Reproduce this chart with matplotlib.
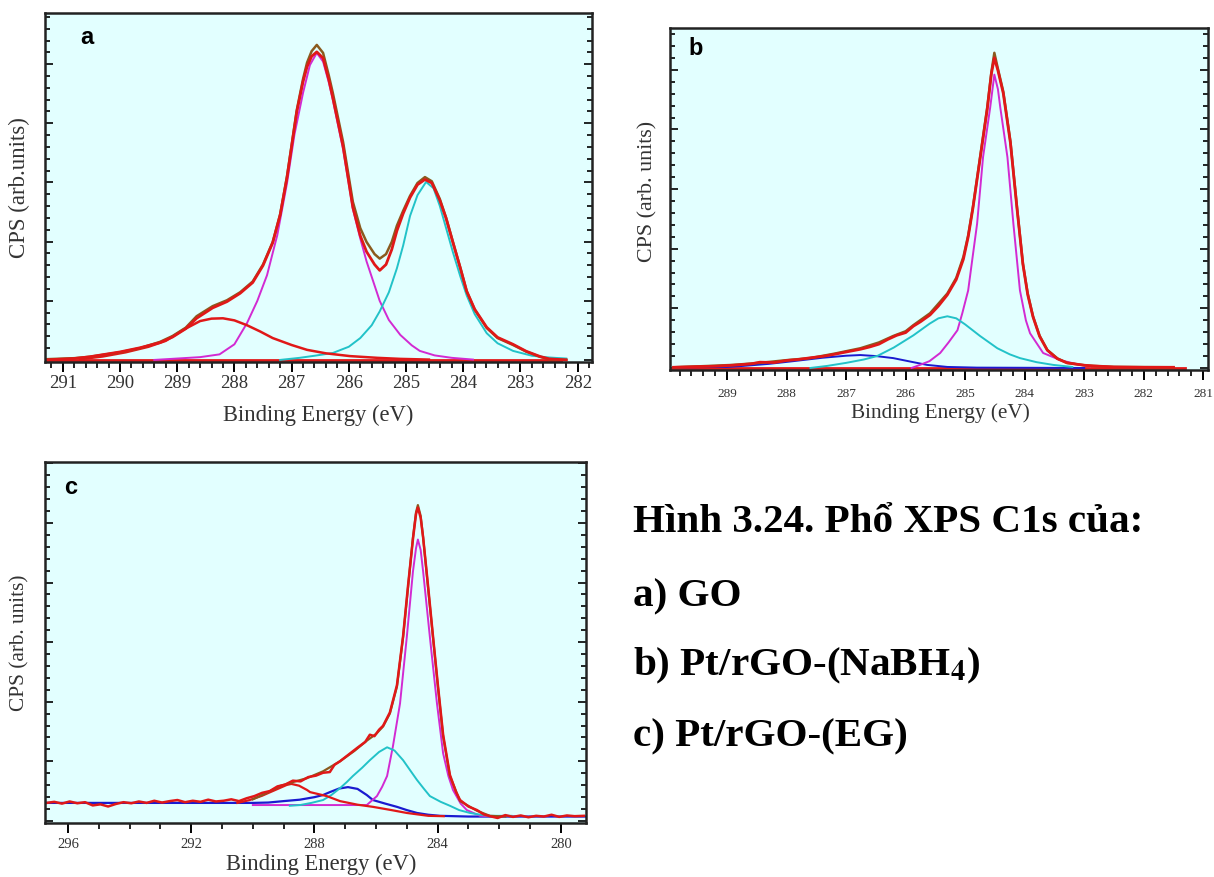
import matplotlib
matplotlib.use("Agg")
import matplotlib.pyplot as plt
from matplotlib.ticker import MultipleLocator

plt.rcParams['mathtext.fontset'] = 'stix'

# ---- panel a : GO ----
a_env_x = [291.3, 290.8, 290.53, 290.0, 289.65, 289.3, 289.08, 288.85, 288.66, 288.38, 288.13, 287.9,
           287.68, 287.5, 287.33, 287.2, 287.08, 286.91, 286.8, 286.73, 286.65, 286.56, 286.45, 286.35,
           286.28, 286.1, 285.93, 285.8, 285.69, 285.55, 285.46, 285.35, 285.25, 285.16, 285.05, 284.93,
           284.8, 284.67, 284.55, 284.41, 284.3, 284.18, 284.05, 283.94, 283.8, 283.59, 283.4, 283.13,
           282.9, 282.66, 282.5, 282.2]
a_env = [0.2, 0.5, 0.9, 2.2, 3.4, 5.2, 6.9, 9.3, 12.6, 15.5, 17.2, 19.5,
         22.6, 27.5, 34.0, 42.0, 53.0, 72.0, 81.0, 85.7, 89.0, 90.8, 88.5, 82.0,
         77.0, 62.8, 45.6, 38.0, 34.0, 30.5, 29.2, 30.5, 34.0, 38.7, 43.0, 47.3,
         51.0, 52.7, 51.5, 46.4, 41.0, 34.0, 26.5, 19.8, 14.5, 9.2, 6.3, 4.3,
         2.4, 0.9, 0.2, 0.0]
a_data = [0.0, 0.4, 0.9, 2.3, 3.5, 5.0, 6.6, 9.0, 12.0, 15.0, 16.8, 19.2,
          22.3, 27.2, 33.8, 41.8, 52.6, 71.5, 80.2, 84.5, 87.5, 88.8, 87.0, 80.8,
          75.6, 61.5, 44.0, 35.8, 31.2, 27.5, 25.8, 27.5, 31.8, 37.2, 42.2, 46.8,
          50.5, 52.0, 51.0, 46.0, 40.8, 33.8, 26.4, 19.8, 14.6, 9.4, 6.5, 4.5,
          2.5, 1.0, 0.3, 0.0]
a_c1_x = [289.4, 289.0, 288.6, 288.26, 288.0, 287.78, 287.6, 287.43, 287.25, 287.08, 286.95, 286.8,
          286.68, 286.56, 286.45, 286.35, 286.28, 286.1, 285.93, 285.8, 285.69, 285.46, 285.3, 285.1,
          284.9, 284.76, 284.5, 284.2, 283.83]
a_c1 = [0.0, 0.4, 0.8, 1.6, 4.5, 10.6, 17.0, 24.4, 36.0, 51.0, 65.0, 77.0,
        85.0, 88.5, 86.0, 80.0, 75.0, 60.7, 43.6, 35.0, 28.4, 17.0, 11.5, 7.2,
        4.2, 2.6, 1.3, 0.6, 0.1]
a_c2_x = [287.2, 286.86, 286.6, 286.28, 286.0, 285.8, 285.6, 285.46, 285.3, 285.16, 285.05, 284.93,
          284.8, 284.65, 284.52, 284.41, 284.3, 284.18, 284.05, 283.94, 283.8, 283.59, 283.4, 283.13,
          282.8, 282.5, 282.2]
a_c2 = [0.0, 0.6, 1.2, 2.0, 3.8, 6.3, 10.0, 14.0, 19.5, 26.4, 33.0, 41.5,
        47.5, 51.3, 49.5, 44.4, 38.0, 31.0, 24.0, 18.6, 13.2, 7.7, 4.8, 2.6,
        1.2, 0.7, 0.4]
a_c3_x = [290.7, 290.3, 289.9, 289.5, 289.2, 288.9, 288.6, 288.4, 288.2, 288.0, 287.78, 287.55,
          287.33, 287.0, 286.73, 286.4, 285.98, 285.5, 285.1, 284.6]
a_c3 = [0.2, 1.0, 2.2, 3.8, 5.5, 8.6, 11.2, 11.9, 12.0, 11.4, 10.0, 8.2,
        6.3, 4.3, 2.9, 1.9, 1.1, 0.6, 0.3, 0.1]

# ---- panel b : Pt/rGO-(NaBH4) ----
b_env_x = [289.9, 289.3, 288.9, 288.45, 288.0, 287.6, 287.2, 286.76, 286.45, 286.21, 286.0, 285.87,
           285.59, 285.3, 285.15, 285.03, 284.95, 284.87, 284.75, 284.63, 284.56, 284.51, 284.45, 284.36,
           284.24, 284.13, 284.03, 283.95, 283.86, 283.75, 283.62, 283.45, 283.29, 283.0, 282.85, 282.5,
           281.5]
b_env = [0.2, 0.6, 0.9, 1.5, 2.3, 2.9, 4.2, 5.8, 7.5, 9.4, 10.8, 12.6,
         16.1, 21.9, 26.5, 32.7, 39.0, 47.4, 62.0, 76.6, 87.0, 92.7, 88.0, 81.3,
         66.7, 47.4, 30.7, 22.0, 15.2, 9.5, 5.3, 2.8, 1.5, 0.8, 0.6, 0.3,
         0.2]
b_data_x = [289.9, 289.5, 289.2, 288.9, 288.6, 288.45, 288.2, 288.0, 287.8, 287.6, 287.4, 287.2,
            287.0, 286.76, 286.6, 286.45, 286.3, 286.15, 286.0, 285.87, 285.75, 285.59, 285.45, 285.3,
            285.15, 285.03, 284.95, 284.87, 284.75, 284.63, 284.56, 284.51, 284.45, 284.36, 284.24, 284.13,
            284.03, 283.95, 283.86, 283.75, 283.62, 283.45, 283.29, 283.0, 282.85, 282.5, 282.0, 281.5]
b_data = [0.2, 0.4, 0.5, 0.8, 1.2, 1.7, 1.6, 2.2, 2.5, 3.0, 3.4, 4.0,
          4.7, 5.5, 6.2, 7.0, 8.4, 9.6, 10.4, 12.3, 13.6, 15.6, 18.2, 21.5,
          26.0, 32.0, 38.5, 47.0, 61.5, 76.0, 86.5, 91.2, 87.5, 80.8, 66.2, 47.0,
          30.5, 21.6, 15.0, 9.3, 5.2, 2.7, 1.5, 0.8, 0.6, 0.3, 0.2, 0.2]
b_c1_x = [285.9, 285.76, 285.6, 285.42, 285.28, 285.13, 285.05, 284.95, 284.88, 284.8, 284.7, 284.58,
          284.51, 284.45, 284.41, 284.29, 284.19, 284.08, 283.98, 283.91, 283.69, 283.4, 283.1, 282.9]
b_c1 = [0.0, 0.9, 2.0, 4.4, 7.5, 11.1, 16.0, 22.8, 32.0, 42.4, 62.0, 76.6,
        86.3, 82.0, 76.6, 62.0, 42.4, 22.8, 14.0, 10.2, 4.4, 2.3, 1.0, 0.5]
b_c2_x = [287.6, 287.32, 287.0, 286.7, 286.48, 286.2, 285.87, 285.6, 285.45, 285.3, 285.15, 285.0,
          284.75, 284.46, 284.25, 284.08, 283.8, 283.52, 283.2]
b_c2 = [0.0, 0.6, 1.5, 2.5, 3.5, 6.0, 9.6, 13.0, 14.6, 15.2, 14.6, 12.8,
        9.4, 5.8, 4.0, 2.9, 1.7, 0.9, 0.3]
b_c3_x = [289.9, 289.0, 288.73, 288.3, 287.89, 287.4, 287.0, 286.76, 286.5, 286.21, 285.9, 285.64,
          285.3, 284.8, 283.0]
b_c3 = [0.2, 0.3, 0.6, 1.2, 2.0, 3.0, 3.6, 3.8, 3.5, 2.9, 1.8, 0.9,
        0.3, 0.1, 0.0]

# ---- panel c : Pt/rGO-(EG) ----
c_data_x = [296.7, 296.45, 296.2, 295.95, 295.7, 295.45, 295.2, 294.95, 294.7, 294.45, 294.2, 293.95,
            293.7, 293.45, 293.2, 292.95, 292.7, 292.45, 292.2, 291.95, 291.7, 291.45, 291.2, 290.95,
            290.7, 290.45, 290.2, 289.95, 289.7, 289.45, 289.2, 288.95, 288.7, 288.45, 288.2, 287.95,
            287.72, 287.5, 287.35, 287.17, 286.9, 286.6, 286.35, 286.2, 286.05, 285.9, 285.77, 285.55,
            285.32, 285.12, 284.96, 284.8, 284.7, 284.64, 284.55, 284.47, 284.31, 284.15, 283.99, 283.82,
            283.6, 283.4, 283.27, 283.0, 282.72, 282.5, 282.3, 282.05, 281.8, 281.55, 281.3, 281.05,
            280.8, 280.55, 280.3, 280.05, 279.8, 279.55, 279.25]
c_data = [5.0, 5.3, 4.8, 5.4, 4.9, 5.2, 4.3, 4.6, 4.0, 4.7, 5.2, 4.9,
          5.4, 5.0, 5.6, 5.1, 5.5, 5.8, 5.2, 5.6, 5.3, 5.9, 5.4, 5.6,
          6.0, 5.5, 6.3, 6.9, 7.8, 8.3, 9.6, 10.1, 11.2, 11.0, 12.2, 12.6,
          13.4, 13.6, 15.6, 16.6, 18.4, 20.4, 22.0, 24.0, 23.6, 25.4, 26.5, 30.2,
          37.8, 51.5, 65.5, 78.5, 85.5, 87.3, 84.5, 79.0, 65.5, 51.5, 37.8, 24.0,
          12.8, 8.0, 5.8, 4.0, 3.0, 1.8, 1.3, 0.8, 1.6, 1.1, 1.5, 1.0,
          1.4, 1.2, 1.7, 1.1, 1.5, 1.3, 1.4]
c_env_x = [290.0, 289.5, 289.12, 288.7, 288.24, 287.72, 287.17, 286.7, 286.29, 286.0, 285.77, 285.55,
           285.32, 285.12, 284.96, 284.8, 284.7, 284.64, 284.55, 284.47, 284.31, 284.15, 283.99, 283.82,
           283.6, 283.27, 282.72, 282.3, 281.8]
c_env = [6.0, 8.0, 9.7, 10.8, 11.9, 13.8, 16.6, 19.5, 22.4, 24.2, 26.3, 29.9,
         37.4, 51.2, 65.0, 79.0, 86.0, 88.0, 85.0, 79.0, 65.0, 51.2, 37.4, 23.5,
         12.5, 5.5, 2.8, 1.4, 1.2]
c_c1_x = [290.0, 286.3, 285.97, 285.8, 285.64, 285.45, 285.22, 285.0, 284.8, 284.7, 284.64, 284.55,
          284.47, 284.25, 284.02, 283.82, 283.65, 283.5, 283.25, 283.05, 282.62, 282.3]
c_c1 = [4.4, 4.4, 6.9, 9.5, 12.5, 20.8, 32.7, 51.2, 69.5, 76.0, 78.4, 75.5,
        69.5, 51.2, 32.7, 18.8, 12.5, 8.6, 4.8, 3.0, 1.4, 1.3]
c_c2_x = [288.8, 288.47, 288.1, 287.72, 287.45, 287.17, 286.95, 286.75, 286.45, 286.2, 285.9, 285.64,
          285.4, 285.12, 284.9, 284.67, 284.45, 284.25, 283.9, 283.6, 283.3, 282.95, 282.6, 282.3, 281.6]
c_c2 = [4.2, 4.4, 5.0, 5.8, 7.2, 9.1, 10.8, 12.5, 14.8, 16.9, 19.2, 20.5,
        19.6, 16.9, 14.2, 11.4, 9.0, 6.9, 5.3, 4.2, 3.0, 2.2, 1.7, 1.4, 1.4]
c_c3_x = [296.7, 290.0, 289.5, 289.0, 288.47, 288.0, 287.72, 287.5, 287.2, 286.91, 286.6, 286.3,
          286.1, 285.7, 285.32, 285.0, 284.67, 284.3, 283.92, 283.0, 281.0, 279.2]
c_c3 = [5.0, 5.0, 5.1, 5.5, 5.9, 6.6, 7.2, 8.0, 9.0, 9.4, 8.9, 7.2,
        5.8, 4.8, 3.9, 3.0, 2.2, 1.7, 1.4, 1.2, 1.2, 1.2]
c_c4_x = [290.5, 290.1, 289.7, 289.3, 288.9, 288.75, 288.5, 288.24, 288.14, 287.6, 287.17, 286.6,
          286.1, 285.5, 285.0, 284.3, 283.8]
c_c4 = [5.0, 5.8, 7.0, 8.5, 10.0, 10.3, 9.8, 8.6, 8.0, 6.9, 5.5, 4.5,
        3.9, 3.0, 2.2, 1.4, 1.3]

caption = ["Hình 3.24. Phổ XPS C1s của:", "a) GO", r"b) Pt/rGO-(NaBH$_\mathbf{4}$)", "c) Pt/rGO-(EG)"]

RED = "#e01818"
BROWN = "#8a5a1e"
MAG = "#d22ad2"
CYAN = "#22c2c8"
BLUE = "#1a1ad0"
TXT = "#333333"
SERIF = ["Liberation Serif", "DejaVu Serif"]

W, H = 1214, 877
fig = plt.figure(figsize=(W / 100, H / 100), dpi=100)


def box(l, t, r, b):
    return [l / W, 1 - b / H, (r - l) / W, (b - t) / H]


def style(ax, xlim, xmaj, xmin, ystep, tsize, pad):
    ax.set_facecolor("#e2ffff")
    ax.set_xlim(*xlim)
    ax.set_ylim(-0.6, 100)
    ax.xaxis.set_major_locator(MultipleLocator(xmaj))
    ax.xaxis.set_minor_locator(MultipleLocator(xmin))
    ax.yaxis.set_major_locator(MultipleLocator(ystep))
    ax.yaxis.set_minor_locator(MultipleLocator(ystep / 5))
    ax.tick_params(axis="x", which="major", direction="out", length=7, width=1.4,
                   labelsize=tsize, pad=pad, labelcolor=TXT)
    ax.tick_params(axis="x", which="minor", direction="out", length=4.5, width=1.2)
    ax.tick_params(axis="y", which="both", direction="in", left=True, right=True,
                   labelleft=False, width=1.2)
    ax.tick_params(axis="y", which="major", length=6)
    ax.tick_params(axis="y", which="minor", length=3.5)
    for lab in ax.get_xticklabels():
        lab.set_family(SERIF)
    for s in ax.spines.values():
        s.set_linewidth(1.8)
        s.set_color("#222222")


# panel a
axa = fig.add_axes(box(45, 13, 592, 362))
style(axa, (291.31, 281.75), 1, 0.2, 17.05, 13.5, 2)
axa.plot([291.31, 282.3], [0, 0], color=RED, lw=2)
axa.plot(a_c1_x, a_c1, color=MAG, lw=1.4)
axa.plot(a_c2_x, a_c2, color=CYAN, lw=1.4)
axa.plot(a_c3_x, a_c3, color=RED, lw=1.8)
axa.plot(a_env_x, a_env, color=BROWN, lw=1.8)
axa.plot(a_env_x, a_data, color=RED, lw=2)
axa.text(0.065, 0.93, "a", transform=axa.transAxes, fontsize=17, fontweight="bold",
         family="Liberation Sans", va="center")

# panel b
axb = fig.add_axes(box(670, 28, 1208, 370))
style(axb, (289.96, 280.92), 1, 0.2, 17.54, 9.5, 6)
axb.plot([289.96, 281.3], [0, 0], color=RED, lw=2)
axb.plot(b_c3_x, b_c3, color=BLUE, lw=1.4)
axb.plot(b_c1_x, b_c1, color=MAG, lw=1.4)
axb.plot(b_c2_x, b_c2, color=CYAN, lw=1.4)
axb.plot(b_env_x, b_env, color=BROWN, lw=1.8)
axb.plot(b_data_x, b_data, color=RED, lw=2)
axb.text(0.035, 0.94, "b", transform=axb.transAxes, fontsize=17, fontweight="bold",
         family="Liberation Sans", va="center")

# panel c
axc = fig.add_axes(box(45, 462, 586, 823))
style(axc, (296.75, 279.18), 4, 1, 16.6, 10.5, 4)
axc.plot(c_c3_x, c_c3, color=BLUE, lw=1.6)
axc.plot(c_c1_x, c_c1, color=MAG, lw=1.4)
axc.plot(c_c2_x, c_c2, color=CYAN, lw=1.4)
axc.plot(c_c4_x, c_c4, color=RED, lw=1.6)
axc.plot(c_env_x, c_env, color=BROWN, lw=1.6)
axc.plot(c_data_x, c_data, color=RED, lw=1.8)
axc.text(0.035, 0.93, "c", transform=axc.transAxes, fontsize=17, fontweight="bold",
         family="Liberation Sans", va="center")

# axis titles
fig.text(318 / W, 1 - 415 / H, "Binding Energy (eV)", ha="center", va="center",
         fontsize=16.3, family=SERIF, color=TXT)
fig.text(940 / W, 1 - 413 / H, "Binding Energy (eV)", ha="center", va="center",
         fontsize=15.3, family=SERIF, color=TXT)
fig.text(321 / W, 1 - 864 / H, "Binding Energy (eV)", ha="center", va="center",
         fontsize=16.3, family=SERIF, color=TXT)
fig.text(19 / W, 1 - 188 / H, "CPS (arb.units)", rotation=90, ha="center", va="center",
         fontsize=16.5, family=SERIF, color=TXT)
fig.text(648 / W, 1 - 191 / H, "CPS (arb. units)", rotation=90, ha="center", va="center",
         fontsize=15.8, family=SERIF, color=TXT)
fig.text(20 / W, 1 - 643 / H, "CPS (arb. units)", rotation=90, ha="center", va="center",
         fontsize=15.3, family=SERIF, color=TXT)

# caption
for line, ypx in zip(caption, [523, 597, 666, 737]):
    fig.text(633 / W, 1 - ypx / H, line, ha="left", va="center", fontsize=29.6,
             fontweight="bold", family=SERIF, color="black")

fig.savefig("out.png", dpi=100)
